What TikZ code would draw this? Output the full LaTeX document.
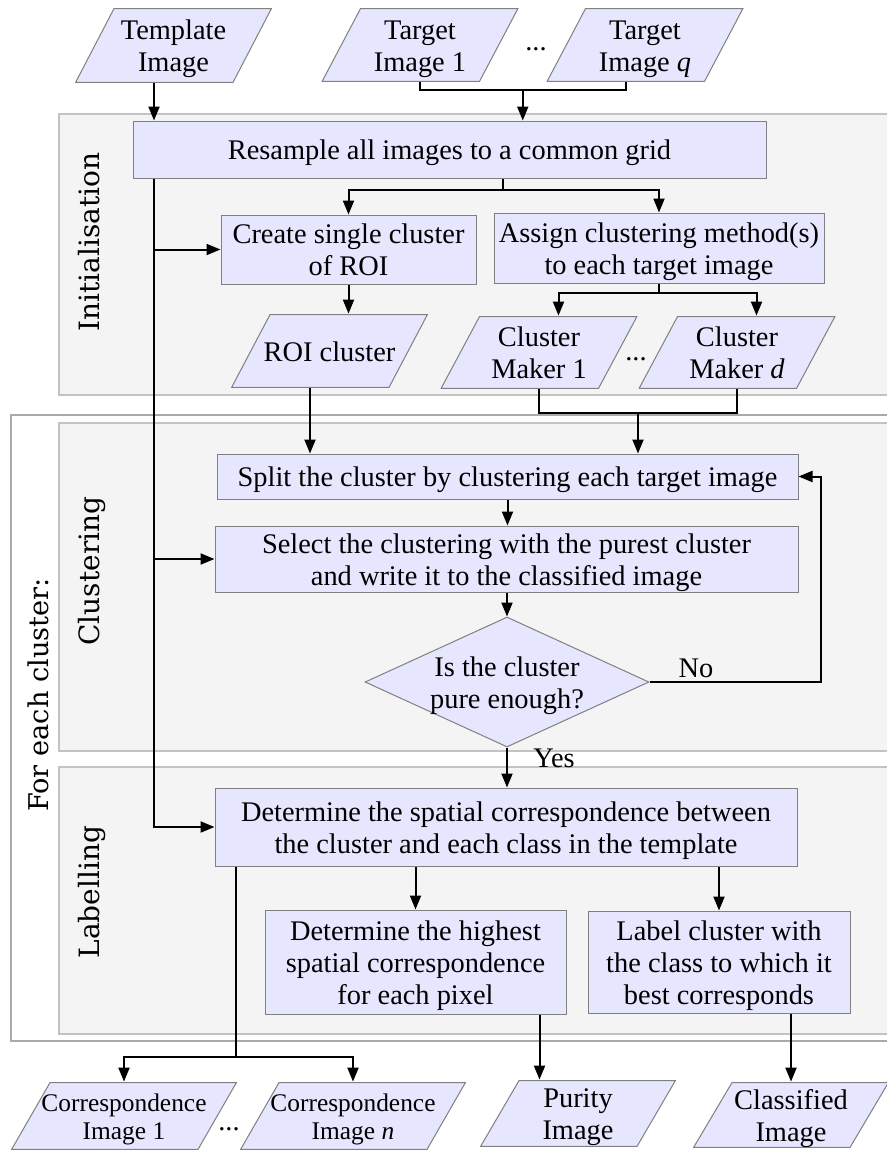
\documentclass[tikz,border=0pt]{standalone}
\usepackage{fontspec}
\setmainfont{Liberation Serif}
\newfontfamily\sidefont{DejaVu Serif}
\usetikzlibrary{arrows.meta,calc,shapes.geometric}
\definecolor{boxfill}{RGB}{230,230,255}
\definecolor{boxline}{RGB}{128,128,128}
\definecolor{panelfill}{RGB}{244,244,244}
\definecolor{panelline}{RGB}{195,195,195}
\definecolor{outerline}{RGB}{170,170,170}
\newcommand\tx[1]{\raisebox{-2pt}[\height][\depth]{\begin{tabular}{@{}c@{}}#1\end{tabular}}}
\begin{document}
\begin{tikzpicture}[x=0.5pt,y=-0.5pt,
  txt/.style={font=\fontsize{14.2}{16}\selectfont, align=center, inner sep=0pt},
  smalltxt/.style={font=\fontsize{12.7}{14}\selectfont, align=center, inner sep=0pt},
  box/.style 2 args={txt, rectangle, draw=boxline, fill=boxfill, line width=0.5pt,
    minimum width=#1, minimum height=#2},
  pg/.style 2 args={txt, rectangle, minimum width=#1, minimum height=#2,
    path picture={
      \path[fill=boxfill, draw=boxline, line width=0.5pt]
        ([shift={(19.5pt,-0.3pt)}]path picture bounding box.north west) --
        ([shift={(-0.3pt,-0.3pt)}]path picture bounding box.north east) --
        ([shift={(-19.5pt,0.3pt)}]path picture bounding box.south east) --
        ([shift={(0.3pt,0.3pt)}]path picture bounding box.south west) -- cycle;
    }},
  dec/.style={diamond, txt, draw=boxline, fill=boxfill, line width=0.5pt,
    inner sep=-4pt, minimum width=142pt, minimum height=65pt, aspect=2.18},
  side/.style={font=\sidefont\fontsize{14}{16}\selectfont, rotate=90, inner sep=0pt},
  panel/.style={draw=panelline, fill=panelfill, line width=0.6pt},
  outer/.style={draw=outerline, fill=white, line width=0.6pt},
  ln/.style={draw=black, line width=1pt},
  arr/.style={draw=black, line width=1pt, -{Triangle[length=7pt,width=5.5pt]}},
  dots/.style={font=\fontsize{14.2}{16}\selectfont, inner sep=0pt, anchor=base}
]
\useasboundingbox (0,0) rectangle (887,1152);
\fill[white] (0,0) rectangle (887,1152);

% panels
\path[panel] (59,114) rectangle (900,395);
\path[outer] (11,415) rectangle (900,1041);
\path[panel] (59,423) rectangle (900,751);
\path[panel] (59,767) rectangle (900,1034);

\node[side] (lInit) at (89,242) {Initialisation};
\node[side, font=\sidefont\fontsize{13.6}{16}\selectfont] (lFor) at (38,695) {For each cluster:};
\node[side] (lClus) at (92,571) {Clustering};
\node[side] (lLab) at (92,892) {Labelling};

% top inputs
\node[pg={98.5pt}{37.5pt}] (tmpl) at (173.5,45.5) {\tx{Template\\Image}};
\node[pg={98.5pt}{37pt}] (t1) at (420,45) {\tx{Target\\Image 1}};
\node[pg={98.5pt}{37pt}] (tq) at (645,45) {\tx{Target\\Image \textit{q}}};
\node[dots] (d1) at (536,50) {...};

\node[box={316.5pt}{28.5pt}] (res) at (449.5,149.5) {\tx{Resample all images to a common grid}};
\node[box={127.5pt}{34.5pt}] (crt) at (348.5,249.5) {\tx{Create single cluster\\of ROI}};
\node[box={165pt}{35pt}] (asg) at (659,248) {\tx{Assign clustering method(s)\\to each target image}};

\node[pg={98.5pt}{37pt}] (roi) at (329.5,351) {\tx{ROI cluster}};
\node[pg={98.5pt}{36.5pt}] (cm1) at (539,352.5) {\tx{Cluster\\Maker 1}};
\node[pg={98.5pt}{36.5pt}] (cmd) at (737,352.5) {\tx{Cluster\\Maker \textit{d}}};
\node[dots] (d2) at (636,360) {...};

\node[box={290.5pt}{22.5pt}] (spl) at (507.5,476.5) {\tx{Split the cluster by clustering each target image}};
\node[box={291.5pt}{33pt}] (sel) at (506.5,559) {\tx{Select the clustering with the purest cluster\\and write it to the classified image}};
\node[dec] (dia) at (507,682) {\tx{Is the cluster\\pure enough?}};

\node[box={291pt}{39pt}] (det) at (506,827) {\tx{Determine the spatial correspondence between\\the cluster and each class in the template}};
\node[box={150.5pt}{52pt}] (hi) at (415.5,962) {\tx{Determine the highest\\spatial correspondence\\for each pixel}};
\node[box={131pt}{51pt}] (lbl) at (719,962) {\tx{Label cluster with\\the class to which it\\best corresponds}};

\node[pg={113pt}{34pt}, smalltxt] (c1) at (124,1116) {\tx{Correspondence\\Image 1}};
\node[pg={113pt}{34pt}, smalltxt] (cn) at (353,1116) {\tx{Correspondence\\Image \textit{n}}};
\node[dots] (d3) at (229,1130) {...};
\node[pg={98pt}{33.5pt}] (pur) at (578,1113.5) {\tx{Purity\\Image}};
\node[pg={98pt}{33pt}] (cls) at (791,1115) {\tx{Classified\\Image}};

% connectors: top
\coordinate (L) at ($(tmpl.south)+(-19.5,0)$);
\draw[arr] (L) -- (L |- res.north);
\coordinate (tqb) at ($(tq.south)+(-19.5,0)$);
\draw[ln] (t1.south) -- ++(0,8) -| (tqb);
\coordinate (tm) at ($(t1.south)!0.5!(tqb)+(0,8)$);
\draw[arr] (tm) -- (tm |- res.north);

% left spine
\draw[arr] (L |- res.south) |- (det.west);
\draw[arr] (L |- crt.west) -- (crt.west);
\draw[arr] (L |- sel.west) -- (sel.west);

% resample branches
\coordinate (rb) at ($(res.south)+(53.5,11)$);
\draw[ln] ($(res.south)+(53.5,0)$) -- (rb);
\draw[arr] (rb) -| (crt.north);
\draw[arr] (rb) -| (asg.north);

\draw[arr] (crt.south) -- (crt.south |- roi.north);

\coordinate (ab) at ($(asg.south)+(0,9)$);
\draw[ln] (asg.south) -- (ab);
\coordinate (cm1t) at ($(cm1.north)+(19.5,0)$);
\coordinate (cmdt) at ($(cmd.north)+(19.5,0)$);
\draw[arr] (ab) -| (cm1t);
\draw[arr] (ab) -| (cmdt);

% into split
\coordinate (roib) at ($(roi.south)+(-19.5,0)$);
\draw[arr] (roib) -- (roib |- spl.north);
\coordinate (cb) at ($(cm1.south)+(0,24)$);
\draw[ln] (cm1.south) -- (cb) -| (cmd.south);
\coordinate (cbm) at ($(cb)!0.5!(cmd.south |- cb)$);
\draw[arr] (cbm) -- (cbm |- spl.north);

% clustering loop
\draw[arr] (spl.south) -- (spl.south |- sel.north);
\draw[arr] (sel.south -| dia.north) -- (dia.north);
\draw[arr] (dia.east) -- ++(171,0) |- (spl.east);
\node[txt] (no) at (696,668) {No};
\draw[arr] (dia.south) -- (dia.south |- det.north);
\node[txt] (yes) at (554,758) {Yes};

% labelling
\draw[arr] (det.south -| hi.north) -- (hi.north);
\draw[arr] (det.south -| lbl.north) -- (lbl.north);
\coordinate (db0) at ($(det.south west)+(21,0)$);
\coordinate (db) at ($(det.south west)+(21,190)$);
\draw[ln] (db0) -- (db);
\draw[arr] (db) -| (c1.north);
\draw[arr] (db) -| (cn.north);
\coordinate (pa) at ($(hi.south east)+(-27,0)$);
\draw[arr] (pa) -- (pa |- pur.north);
\draw[arr] (lbl.south -| cls.north) -- (cls.north);
\end{tikzpicture}
\end{document}
